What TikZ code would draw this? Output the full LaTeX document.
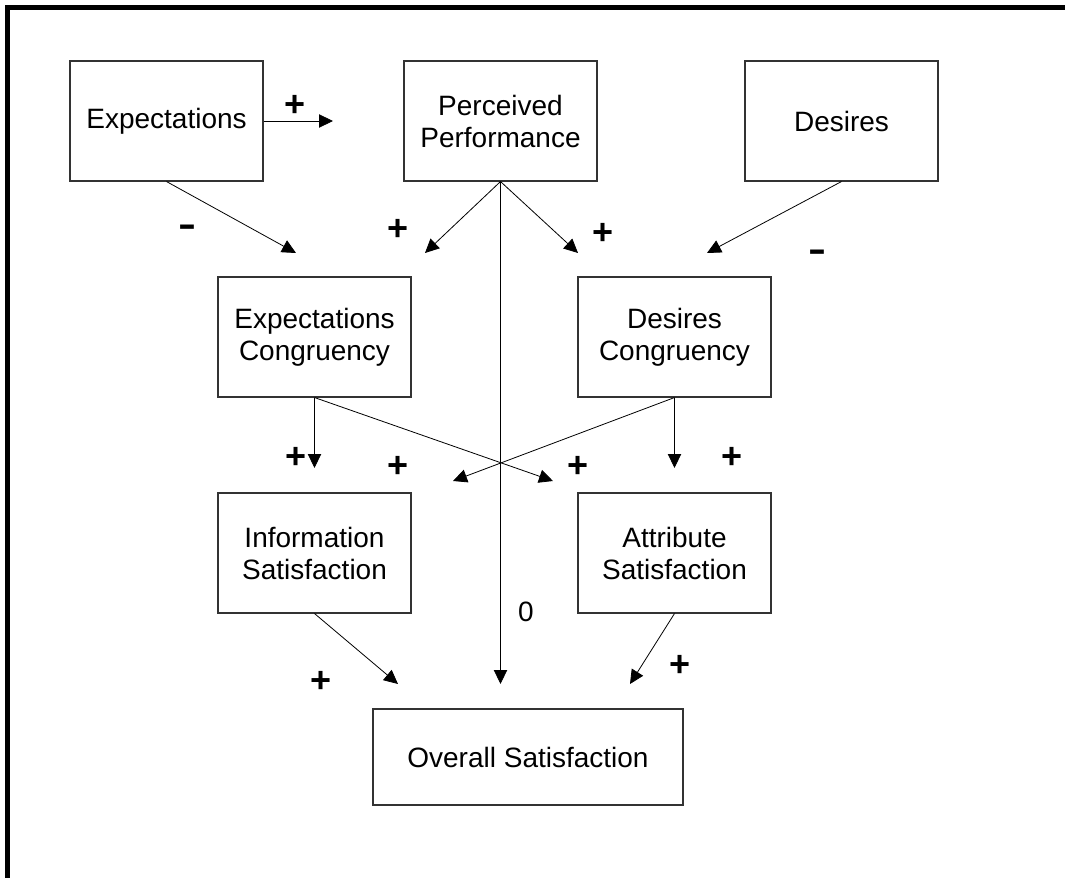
\documentclass[tikz,border=0pt]{standalone}
\usepackage{fontspec}
\usepackage{graphicx}
\setmainfont{Liberation Sans}
\usetikzlibrary{arrows.meta}

\newcommand{\minussign}{\scalebox{1.5}[1]{-}}

\begin{document}
\begin{tikzpicture}[
    x=0.75pt, y=-0.75pt,
    >={Triangle[length=10.5pt, width=10pt]},
    factor/.style={rectangle, draw=black!80, line width=0.8pt, fill=white,
                   minimum width=144.75pt, minimum height=90pt, inner sep=0pt,
                   align=center, font=\fontsize{21}{24}\selectfont},
    link/.style={->, line width=0.6pt},
    sign/.style={font=\fontsize{27}{30}\selectfont\bfseries, inner sep=0pt}
]
\useasboundingbox (0,0) rectangle (1065,878);
\draw[line width=3.75pt] (7.5,878) -- (7.5,7.5) -- (1065,7.5);

\node[factor] (exp) at (166.5,121) {Expectations};
\node[factor] (perf) at (500.5,121) {Perceived\\Performance};
\node[factor] (des) at (841.5,121) {Desires};
\node[factor] (expc) at (314.5,337) {Expectations\\Congruency};
\node[factor] (desc) at (674.5,337) {Desires\\Congruency};
\node[factor] (info) at (314.5,553) {Information\\Satisfaction};
\node[factor] (attr) at (674.5,553) {Attribute\\Satisfaction};
\node[factor, minimum width=232.5pt, minimum height=72pt] (overall) at (528,757)
    {Overall Satisfaction};

% free ends of the connectors
\coordinate (expR) at (333,121);
\coordinate (expD) at (296,253);
\coordinate (perfL) at (425,253);
\coordinate (perfR) at (578,253);
\coordinate (desD) at (707,253);
\coordinate (expcD) at (314.5,468);
\coordinate (expcX) at (553,481);
\coordinate (descX) at (453,481);
\coordinate (descD) at (674.5,468);
\coordinate (infoD) at (398,684);
\coordinate (perfD) at (500.5,684);
\coordinate (attrD) at (630,684);

\draw[link] (exp.east) -- (expR);
\draw[link] (exp.south) -- (expD);
\draw[link] (perf.south) -- (perfL);
\draw[link] (perf.south) -- (perfR);
\draw[link] (des.south) -- (desD);
\draw[link] (perf.south) -- (perfD);
\draw[link] (expc.south) -- (expcD);
\draw[link] (expc.south) -- (expcX);
\draw[link] (desc.south) -- (descX);
\draw[link] (desc.south) -- (descD);
\draw[link] (info.south) -- (infoD);
\draw[link] (attr.south) -- (attrD);

% signs of the effects
\node[sign] (s1) at (295,106) {+};
\node[sign] (s2) at (187,231) {\minussign};
\node[sign] (s3) at (398,230) {+};
\node[sign] (s4) at (603,234) {+};
\node[sign] (s5) at (817,256) {\minussign};
\node[sign] (s6) at (296,458) {+};
\node[sign] (s7) at (398,467) {+};
\node[sign] (s8) at (578,467) {+};
\node[sign] (s9) at (732,458) {+};
\node[sign] (s10) at (321,682) {+};
\node[sign] (s11) at (680,666) {+};
\node[font=\fontsize{21}{24}\selectfont, inner sep=0pt] (s12) at (526,612) {0};
\end{tikzpicture}
\end{document}
